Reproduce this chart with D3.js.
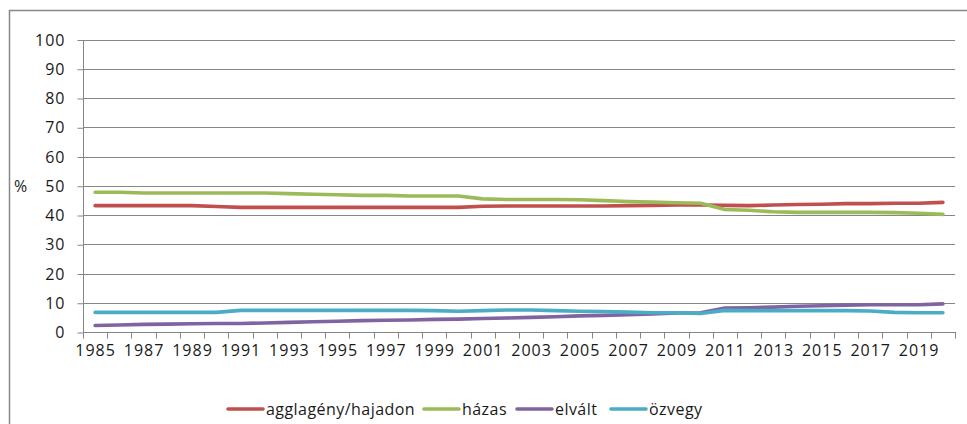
<!DOCTYPE html>
<html>
<head>
<meta charset="utf-8">
<script src="https://cdn.jsdelivr.net/npm/d3@7/dist/d3.min.js"></script>
<style>
  html, body { margin: 0; padding: 0; background: #fff; }
  svg { display: block; }
  text { font-family: "Open Sans", "Noto Sans", sans-serif; fill: #1a1a1a; }
</style>
</head>
<body>
<svg id="chart" width="967" height="424"></svg>
<script>
// ---- data ----
const years = d3.range(1985, 2021).map(String);
const xTickLabels = ["1985","1987","1989","1991","1993","1995","1997","1999","2001","2003","2005","2007","2009","2011","2013","2015","2017","2019"];
const yTicks = [0,10,20,30,40,50,60,70,80,90,100];
const seriesNames = ["agglagény/hajadon","házas","elvált","özvegy"];
const single = [43.2,43.2,43.2,43.2,43.2,42.9,42.6,42.6,42.6,42.6,42.6,42.6,42.6,42.6,42.6,42.6,43.0,43.1,43.1,43.1,43.1,43.1,43.2,43.3,43.4,43.4,43.3,43.2,43.4,43.6,43.7,43.9,43.9,44.0,44.0,44.3];
const married = [47.8,47.8,47.5,47.5,47.5,47.5,47.5,47.5,47.3,47.1,46.9,46.7,46.7,46.5,46.5,46.5,45.5,45.3,45.3,45.3,45.2,44.9,44.6,44.4,44.2,44.0,41.9,41.6,41.1,40.9,40.9,40.9,40.9,40.8,40.6,40.2];
const divorced = [2.2,2.4,2.6,2.7,2.8,2.9,2.9,3.1,3.3,3.5,3.7,3.9,4.0,4.1,4.3,4.4,4.6,4.8,5.0,5.2,5.5,5.7,5.9,6.2,6.5,6.6,8.2,8.3,8.5,8.8,9.0,9.2,9.3,9.3,9.3,9.6];
const widowed = [6.7,6.7,6.7,6.7,6.7,6.7,7.4,7.4,7.4,7.4,7.4,7.4,7.4,7.4,7.3,7.1,7.3,7.5,7.5,7.3,7.1,7.0,6.8,6.6,6.6,6.3,7.4,7.3,7.3,7.3,7.3,7.3,7.2,6.7,6.6,6.6];
const seriesValues = [single, married, divorced, widowed];
const colors = ["#C0504D","#9BBB59","#8064A2","#4BACC6"];

// ---- layout ----
const svg = d3.select("#chart");
const plotLeft = 83, plotRight = 955, plotTop = 39.5, plotBottom = 332;
const axisColor = "#868686";
const fs = 16;
const ls = "1px";

// outer frame
svg.append("rect").attr("x", 9.5).attr("y", 10.5).attr("width", 980).attr("height", 440)
  .attr("fill", "none").attr("stroke", "#878787").attr("stroke-width", 1.5);

const x = d3.scaleBand().domain(years).range([plotLeft, plotRight]).paddingInner(0).paddingOuter(0);
const y = d3.scaleLinear().domain([0, 100]).range([plotBottom, plotTop]);
const cx = d => x(d) + x.bandwidth() / 2;

// gridlines
svg.append("g").selectAll("line").data(yTicks.filter(v => v > 0)).join("line")
  .attr("x1", plotLeft).attr("x2", plotRight)
  .attr("y1", d => Math.round(y(d)) + 0.5).attr("y2", d => Math.round(y(d)) + 0.5)
  .attr("stroke", axisColor).attr("stroke-width", 1);

// y axis
const yAxis = d3.axisLeft(y).tickValues(yTicks).tickSize(6).tickPadding(13).tickFormat(d3.format("d"));
const gy = svg.append("g").attr("transform", `translate(${plotLeft + 0.5},0.5)`).call(yAxis);
gy.select(".domain").attr("stroke", axisColor).attr("d", `M0,${plotTop}V${plotBottom}`);
gy.selectAll(".tick line").attr("stroke", axisColor);
gy.selectAll(".tick text").attr("font-size", fs).attr("fill", "#1a1a1a")
  .attr("dx", "1px")
  .style("font-family", '"Open Sans", sans-serif').style("letter-spacing", ls);

svg.append("text").attr("x", 14).attr("y", 192).attr("font-size", fs).text("%");

// x axis (ticks at category boundaries)
const xb = svg.append("g");
xb.append("line").attr("x1", plotLeft).attr("x2", plotRight)
  .attr("y1", Math.round(plotBottom) + 0.5).attr("y2", Math.round(plotBottom) + 0.5)
  .attr("stroke", axisColor);
const bounds = years.map(d => x(d)).concat([plotRight]);
xb.selectAll("line.tk").data(bounds).join("line").attr("class", "tk")
  .attr("x1", d => Math.round(d) + 0.5).attr("x2", d => Math.round(d) + 0.5)
  .attr("y1", plotBottom).attr("y2", plotBottom + 6.5)
  .attr("stroke", axisColor);
xb.selectAll("text").data(xTickLabels).join("text")
  .attr("x", d => cx(d) + 0.5).attr("y", 356)
  .attr("text-anchor", "middle").attr("font-size", fs)
  .style("letter-spacing", ls)
  .text(d => d);

// lines
const line = d3.line().x((d, i) => cx(years[i])).y(d => y(d));
seriesValues.forEach((vals, k) => {
  svg.append("path").datum(vals).attr("d", line)
    .attr("fill", "none").attr("stroke", colors[k]).attr("stroke-width", 3.6)
    .attr("stroke-linecap", "round").attr("stroke-linejoin", "round");
});

// legend
const legendX = [228, 424, 517, 611];
const legendY = 409;
seriesNames.forEach((name, k) => {
  const g = svg.append("g").attr("transform", `translate(${legendX[k]},${legendY})`);
  g.append("line").attr("x1", 0).attr("x2", 35).attr("y1", 0).attr("y2", 0)
    .attr("stroke", colors[k]).attr("stroke-width", 3.6).attr("stroke-linecap", "round");
  g.append("text").attr("x", 38).attr("y", 5.5).attr("font-size", fs)
    .style("letter-spacing", "0.45px").text(name);
});
</script>
</body>
</html>
